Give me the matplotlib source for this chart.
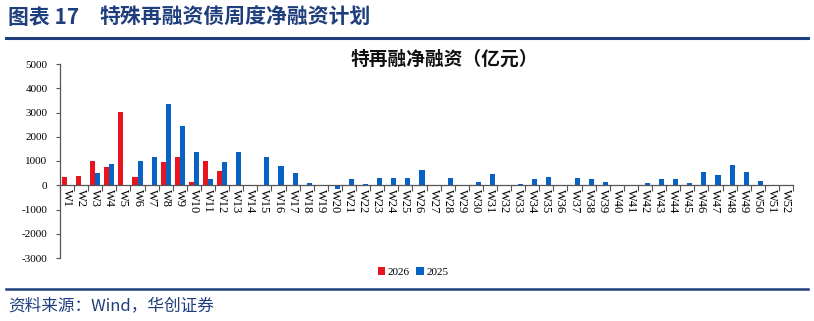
import matplotlib.pyplot as plt
import numpy as np

# weekly net financing (100 million yuan)
weeks = ['W%d' % i for i in range(1, 53)]
y2026 = [330, 400, 990, 740, 3030, 340, 0, 960, 1150, 120, 1010, 575]
y2025 = [0, 0, 510, 860, 0, 990, 1150, 3340, 2450, 1370, 250, 960,
         1360, 0, 1165, 780, 520, 100, 0, -170, 270, 70, 300, 300,
         300, 620, 0, 300, 0, 140, 480, 0, 70, 270, 330, 0, 300, 250,
         140, 0, 0, 80, 250, 270, 100, 560, 420, 820, 530, 190, 0, 0]
yticks = [-3000, -2000, -1000, 0, 1000, 2000, 3000, 4000, 5000]

navy = '#1F3E7C'
red = '#E8141E'
blue = '#0862C4'
serif = ['Liberation Serif', 'Noto Sans CJK SC']
cjk = ['Noto Sans CJK SC', 'DejaVu Sans']

fig = plt.figure(figsize=(8.14, 3.21), dpi=100)
ax = fig.add_axes([60 / 814, 1 - 258 / 321, 733 / 814, 194 / 321])

x = np.arange(len(weeks))
w = 0.36
ax.bar(x[:len(y2026)] - w / 2, y2026, w, color=red, label='2026')
ax.bar(x + w / 2, y2025, w, color=blue, label='2025')

ax.set_xlim(-0.5, len(weeks) - 0.5)
ax.set_ylim(-3000, 5000)
ax.set_yticks(yticks)
ax.set_yticklabels([str(t) for t in yticks], fontsize=8, family=serif)
ax.tick_params(axis='y', length=3, width=0.8, color='#555555', pad=6)

ax.spines['bottom'].set_position(('data', 0))
for s in ['top', 'right']:
    ax.spines[s].set_visible(False)
for s in ['left', 'bottom']:
    ax.spines[s].set_color('#555555')
    ax.spines[s].set_linewidth(0.9)

ax.set_xticks(np.arange(len(weeks) + 1) - 0.5)
ax.set_xticklabels([])
ax.tick_params(axis='x', which='major', length=4, width=0.8, color='#555555', direction='out')
ax.set_xticks(x, minor=True)
ax.set_xticklabels(weeks, minor=True, rotation=270, fontsize=9, family=serif)
ax.tick_params(axis='x', which='minor', length=0, pad=3)

fig.text(444 / 814, 1 - 59 / 321, '特再融净融资（亿元）', ha='center', va='center',
         fontsize=13.5, fontweight='bold', family=cjk, color='#111111')

h, l = ax.get_legend_handles_labels()
leg = fig.legend(h, l, loc='center', bbox_to_anchor=(413 / 814, 1 - 272 / 321), ncol=2,
                 frameon=False, prop={'family': serif, 'size': 8}, handlelength=0.7,
                 handleheight=0.7, handletextpad=0.2, columnspacing=0.6)

# header and footer
fig.text(8 / 814, 1 - 17 / 321, '图表 17', ha='left', va='center',
         fontsize=15, fontweight='bold', family=cjk, color=navy)
fig.text(100 / 814, 1 - 17 / 321, '特殊再融资债周度净融资计划', ha='left', va='center',
         fontsize=15, fontweight='bold', family=cjk, color=navy)
fig.add_artist(plt.Line2D([6 / 814, 808 / 814], [1 - 37.5 / 321] * 2, color=navy, lw=2.2))
fig.add_artist(plt.Line2D([6 / 814, 808 / 814], [1 - 289 / 321] * 2, color=navy, lw=1.8))
fig.text(8 / 814, 1 - 306 / 321, '资料来源：Wind，华创证券', ha='left', va='center',
         fontsize=12, family=cjk, color=navy, style='italic')

fig.savefig('out.png', dpi=100)
